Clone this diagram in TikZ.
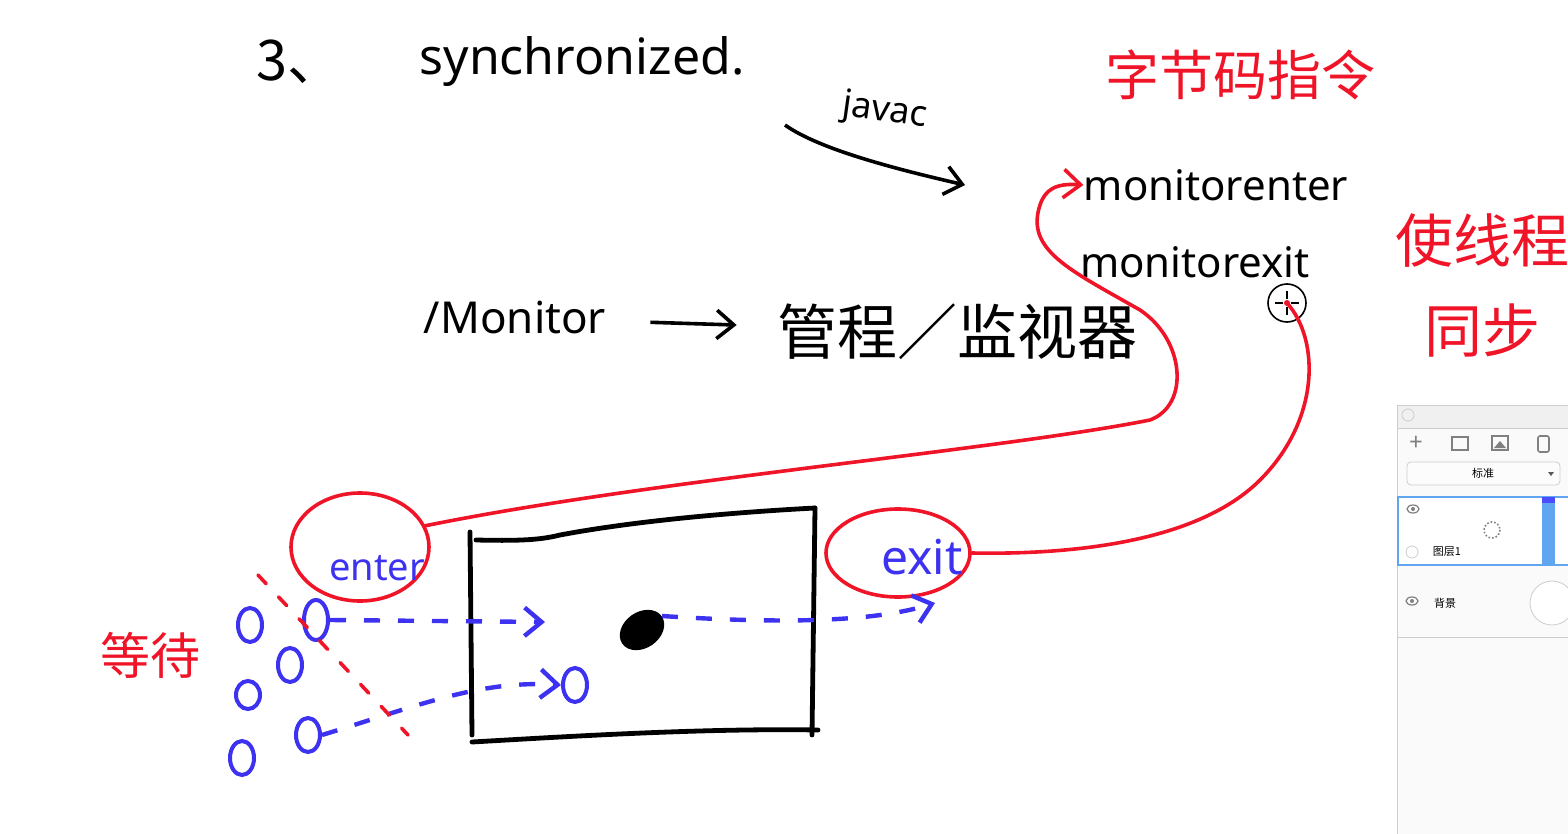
\documentclass[tikz,border=0pt]{standalone}
\usepackage{fontspec}
\setmainfont{Noto Sans}
\newfontfamily\cjk{Noto Sans CJK SC}
\usetikzlibrary{arrows.meta, positioning, shapes.geometric}

\definecolor{penred}{RGB}{240,20,40}
\definecolor{penblue}{RGB}{60,50,240}
\definecolor{panelgrey}{RGB}{205,205,205}
\definecolor{selblue}{RGB}{95,165,240}

\begin{document}
\begin{tikzpicture}[x=0.5pt, y=-0.5pt,
  ink/.style={line width=2.4pt, line cap=round},
  word/.style={inner sep=0pt, font=\fontsize{21}{23}\selectfont},
  hanzi/.style={inner sep=0pt, font=\cjk\fontsize{27}{29}\selectfont},
  waiter/.style={ellipse, draw=penblue, line width=2pt, minimum width=12pt, minimum height=17pt, inner sep=0pt},
  ring/.style={ellipse, draw=penred, line width=1.8pt, inner sep=0pt},
  redline/.style={draw=penred, line width=1.8pt, line cap=round},
  flow/.style={draw=penblue, line width=2.2pt, dash pattern=on 8pt off 9pt, -{Straight Barb[length=3mm, width=5mm]}},
  arrow/.style={-{Straight Barb[length=3mm, width=5mm]}, line width=1.8pt},
  paneltext/.style={inner sep=0pt, font=\cjk\fontsize{5.5}{6}\selectfont},
]
  \useasboundingbox (0,0) rectangle (1568,834);

  \node[hanzi, font=\cjk\fontsize{28}{30}\selectfont] (num) at (300,62) {3、};
  \node[word, font=\fontsize{25}{27}\selectfont] (sync) at (582,62) {synchronized.};
  \node[word, font=\fontsize{18}{20}\selectfont, rotate=-8] (javac) at (885,112) {javac};
  \coordinate (jfrom) at (785,125);
  \coordinate (jto) at (965,185);
  \draw[arrow] (jfrom) .. controls (820,150) and (900,170) .. (jto);

  \node[hanzi, text=penred] (bytecode) at (1240,75) {字节码指令};
  \node[word] (menter) at (1216,185) {monitorenter};
  \node[word] (mexit) at (1195,262) {monitorexit};
  \node[hanzi, text=penred, align=center, font=\cjk\fontsize{29}{45}\selectfont] (together) at (1482,285) {使线程\\同步};

  \node[word, font=\fontsize{22}{24}\selectfont] (mon) at (515,318) {/Monitor};
  \node[hanzi, font=\cjk\fontsize{30}{32}\selectfont] (guan) at (957,332) {管程／监视器};
  \draw[arrow, shorten <=22pt, shorten >=20pt] (mon) -- (guan);

  \node[circle, draw, line width=0.8pt, minimum size=19pt, inner sep=0pt] (cursor) at (1287,303) {};
  \draw[line width=0.6pt] ([xshift=-6pt]cursor.center) -- ([xshift=-2pt]cursor.center)
    ([xshift=2pt]cursor.center) -- ([xshift=6pt]cursor.center)
    ([yshift=-6pt]cursor.center) -- ([yshift=-2pt]cursor.center)
    ([yshift=2pt]cursor.center) -- ([yshift=6pt]cursor.center);

  \node[ring, minimum width=69pt, minimum height=54pt] (enterring) at (360,547) {};
  \node[text=penblue, word, font=\fontsize{19}{21}\selectfont] (enter) at (377,568) {enter};
  \node[ring, minimum width=72pt, minimum height=44pt] (exitring) at (898,553) {};
  \node[text=penblue, word, font=\fontsize{24}{26}\selectfont] (exit) at (922,557) {exit};

  \draw[redline, -{Straight Barb[length=3mm, width=5mm]}] (enterring.18) .. controls (650,480) and (1000,450) .. (1150,420)
    .. controls (1190,405) and (1185,340) .. (1140,310) .. controls (1070,270) and (1025,250) .. (1040,205)
    .. controls (1045,190) and (1055,183) .. (menter.west);
  \draw[redline] (exitring.east) .. controls (1080,555) and (1200,540) .. (1260,480)
    .. controls (1320,420) and (1320,340) .. (cursor.center);
  \fill[penred] (cursor.center) circle (3);

  \draw[ink] (470,532) -- (472,735);
  \draw[ink] (476,540) .. controls (520,541) and (540,540) .. (560,535) .. controls (640,520) and (740,512) .. (815,508);
  \draw[ink] (815,508) -- (812,735);
  \draw[ink] (472,742) .. controls (560,737) and (700,728) .. (818,730);
  \node[ellipse, fill=black, minimum width=24pt, minimum height=18pt, rotate=35] (holder) at (642,630) {};

  \node[waiter] (o1) at (250,625) {};
  \node[waiter, minimum height=20pt] (o2) at (316,620) {};
  \node[waiter] (o3) at (290,665) {};
  \node[waiter, minimum height=14pt] (o4) at (248,695) {};
  \node[waiter] (o5) at (242,758) {};
  \node[waiter] (o6) at (308,735) {};
  \node[waiter] (o7) at (575,685) {};

  \coordinate (inside) at (545,622);
  \coordinate (leave) at (935,603);
  \draw[flow] (o2.east) -- (inside);
  \draw[flow] (holder.east) .. controls (800,625) and (880,620) .. (leave);
  \draw[flow] (o6.east) .. controls (420,705) and (480,680) .. (o7.west);

  \coordinate (cutA) at (258,575);
  \coordinate (cutB) at (408,735);
  \draw[redline, dash pattern=on 6pt off 9pt] (cutA) -- (cutB);
  \node[hanzi, text=penred, font=\cjk\fontsize{25}{27}\selectfont] (wait) at (150,655) {等待};

  \draw[panelgrey, fill=gray!4] (1397,405) rectangle (1580,840);
  \fill[gray!12] (1398,406) rectangle (1568,428);
  \draw[panelgrey] (1408,415) circle (6);
  \draw[panelgrey] (1398,428) -- (1568,428);
  \node[text=gray, font=\fontsize{12}{12}\selectfont, inner sep=0pt] (addbtn) at (1416,443) {+};
  \draw[gray, line width=0.8pt] (1452,437) rectangle (1468,450);
  \draw[gray, line width=0.8pt] (1492,436) rectangle (1508,450);
  \fill[gray] (1494,448) -- (1500,441) -- (1506,448) -- cycle;
  \draw[gray, line width=0.8pt, rounded corners=1pt] (1538,436) rectangle (1549,452);
  \draw[panelgrey, rounded corners=2pt, fill=gray!2] (1407,462) rectangle (1560,485);
  \node[paneltext] (mode) at (1483,473) {标准};
  \fill[gray!70!black] (1548,472) -- (1554,472) -- (1551,476) -- cycle;
  \draw[selblue, line width=0.8pt, fill=white] (1398,497) rectangle (1575,565);
  \fill[selblue] (1542,497) rectangle (1555,565);
  \fill[blue!70] (1542,497) rectangle (1555,503);
  \draw[gray, line width=0.6pt] (1413,509) ellipse (6 and 4);
  \fill[gray] (1413,509) circle (2);
  \draw[gray, densely dotted, line width=0.8pt] (1492,530) circle (8);
  \draw[panelgrey] (1412,552) circle (6);
  \node[paneltext] (layer) at (1447,552) {图层1};
  \draw[gray, line width=0.6pt] (1412,601) ellipse (6 and 4);
  \fill[gray] (1412,601) circle (2);
  \node[paneltext] (bg) at (1445,603) {背景};
  \draw[panelgrey, fill=white] (1552,603) circle (22);
  \draw[panelgrey] (1398,637) -- (1568,637);
\end{tikzpicture}
\end{document}
